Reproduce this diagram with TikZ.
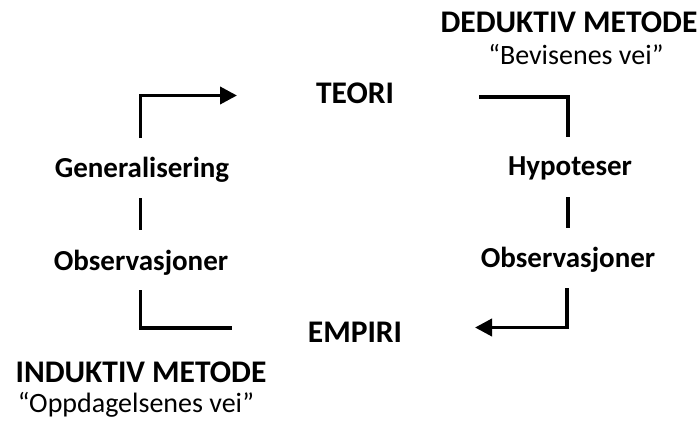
\documentclass[tikz,border=0pt]{standalone}
\usepackage{fontspec}
\setmainfont{Carlito}
\usetikzlibrary{arrows.meta}

\begin{document}
\begin{tikzpicture}[x=1pt, y=-1pt,
  title/.style={anchor=base, inner sep=0pt, font=\fontsize{31.5}{36}\selectfont\bfseries},
  label/.style={anchor=base, inner sep=0pt, font=\fontsize{29}{34}\selectfont\bfseries},
  quote/.style={anchor=base, inner sep=0pt, font=\fontsize{28}{33}\selectfont},
  conn/.style={line width=3.8pt, black},
  flow/.style={conn, -{Triangle[length=17pt, width=17pt]}}]
  \useasboundingbox (0,0) rectangle (700,425);

  % method headings
  \node[title] (ded) at (569,33) {DEDUKTIV METODE};
  \node[quote] (devei) at (576,65) {“Bevisenes vei”};
  \node[title] (ind) at (141,382) {INDUKTIV METODE};
  \node[quote] (invei) at (136,412) {“Oppdagelsenes vei”};

  % theory and empirical levels
  \node[title] (teori) at (355,103) {TEORI};
  \node[title] (empiri) at (355,342) {EMPIRI};

  % inductive side
  \node[label] (gen) at (142,177) {Generalisering};
  \node[label] (obsl) at (141,270) {Observasjoner};

  % deductive side
  \node[label] (hyp) at (570,175) {Hypoteser};
  \node[label] (obsr) at (568,267) {Observasjoner};

  % connector end points
  \coordinate (l1) at (140.5,138);
  \coordinate (l2) at (237,95.5);
  \coordinate (l3) at (140.5,198);
  \coordinate (l4) at (140.5,230);
  \coordinate (l5) at (140.5,290);
  \coordinate (l6) at (232,328);
  \coordinate (r1) at (479,97);
  \coordinate (r2) at (568,137);
  \coordinate (r3) at (568,197);
  \coordinate (r4) at (568,228);
  \coordinate (r5) at (567,288);
  \coordinate (r6) at (475,327.5);

  % inductive path: observations up to theory
  \draw[conn] (l5) |- (l6);
  \draw[conn] (l3) -- (l4);
  \draw[flow] (l1) |- (l2);

  % deductive path: theory down to empirical data
  \draw[conn] (r1) -| (r2);
  \draw[conn] (r3) -- (r4);
  \draw[flow] (r5) |- (r6);
\end{tikzpicture}
\end{document}
